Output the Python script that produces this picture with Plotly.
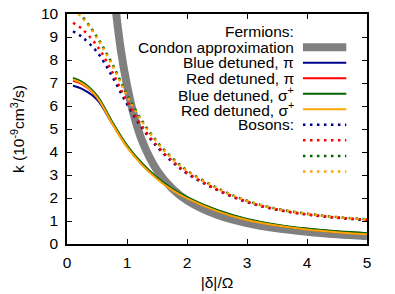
import plotly.graph_objects as go

# ---- data ----
x_grid = [0.1, 0.25, 0.5, 0.75, 1.0, 1.25, 1.5, 1.75, 2.0, 2.5, 3.0, 3.5, 4.0, 4.5, 5.0]

fermion_blue_pi = [6.88, 6.74, 6.28, 5.25, 4.24, 3.47, 2.86, 2.39, 2.02, 1.46, 1.07, 0.82, 0.65, 0.53, 0.44]
fermion_red_pi = [7.10, 6.95, 6.38, 5.27, 4.24, 3.46, 2.85, 2.37, 2.00, 1.44, 1.05, 0.81, 0.64, 0.52, 0.43]
fermion_blue_sigma = [7.22, 7.05, 6.45, 5.33, 4.29, 3.51, 2.89, 2.41, 2.04, 1.48, 1.09, 0.84, 0.67, 0.55, 0.47]
fermion_red_sigma = [7.15, 6.98, 6.38, 5.25, 4.21, 3.44, 2.83, 2.35, 1.98, 1.43, 1.04, 0.80, 0.63, 0.51, 0.42]

boson_blue_pi = [9.25, 9.00, 8.35, 7.30, 6.08, 5.05, 4.23, 3.58, 3.07, 2.35, 1.82, 1.49, 1.28, 1.14, 1.04]
boson_red_pi = [9.62, 9.35, 8.62, 7.50, 6.20, 5.12, 4.28, 3.62, 3.10, 2.37, 1.84, 1.50, 1.29, 1.15, 1.05]
boson_blue_sigma = [10.25, 9.90, 9.00, 7.85, 6.50, 5.36, 4.45, 3.75, 3.20, 2.44, 1.88, 1.53, 1.32, 1.17, 1.07]
boson_red_sigma = [10.20, 9.85, 8.95, 7.80, 6.45, 5.32, 4.42, 3.72, 3.18, 2.42, 1.87, 1.52, 1.31, 1.16, 1.06]

condon_x = [0.75, 0.8, 0.9, 1.0, 1.1, 1.25, 1.5, 1.75, 2.0, 2.5, 3.0, 3.5, 4.0, 4.5, 5.0]
condon_k = [12.0, 10.5, 8.4, 6.9, 5.75, 4.5, 3.2, 2.42, 1.9, 1.27, 0.91, 0.68, 0.53, 0.42, 0.34]

x_ticks = [0, 1, 2, 3, 4, 5]
y_ticks = [0, 1, 2, 3, 4, 5, 6, 7, 8, 9, 10]

legend_labels = ["Fermions:", "Condon approximation", "Blue detuned, π", "Red detuned, π",
                 "Blue detuned, σ<sup>+</sup>", "Red detuned, σ<sup>+</sup>", "Bosons:", "", "", ""]

# ---- styles ----
GRAY = "#808080"
BLUE = "#00008b"
RED = "#ff0000"
GREEN = "#006400"
ORANGE = "#ffa500"
FONT = "Liberation Sans, Arial, sans-serif"
FS = 15.5
DOT = "2.5px,4.5px"

fig = go.Figure()
fig.add_trace(go.Scatter(x=condon_x, y=condon_k, mode="lines",
                         line=dict(color=GRAY, width=8, shape="spline")))
for ys, c in [(fermion_blue_pi, BLUE), (fermion_red_pi, RED),
              (fermion_blue_sigma, GREEN), (fermion_red_sigma, ORANGE)]:
    fig.add_trace(go.Scatter(x=x_grid, y=ys, mode="lines",
                             line=dict(color=c, width=2, shape="spline")))
for ys, c in [(boson_blue_pi, BLUE), (boson_red_pi, RED),
              (boson_blue_sigma, GREEN), (boson_red_sigma, ORANGE)]:
    fig.add_trace(go.Scatter(x=x_grid, y=ys, mode="lines",
                             line=dict(color=c, width=2.5, dash=DOT, shape="spline")))

# ---- layout geometry (page pixels) ----
W, H = 395, 294
PL, PT, PR, PB = 67, 14, 366.7, 243.7          # plot box
L, T, R, B = PL, PT, W - PR, H - PB
pw, ph = PR - PL, PB - PT

def px(xp):
    return (xp - PL) / pw

def py(yp):
    return (PB - yp) / ph

row0, step = 31.7, 15.5
text_right = 296
s0, s1 = 302.7, 346
samples = [None, (GRAY, 8, "solid"), (BLUE, 2, "solid"), (RED, 2, "solid"),
           (GREEN, 2, "solid"), (ORANGE, 2, "solid"),
           (BLUE, 2.5, DOT), (RED, 2.5, DOT), (GREEN, 2.5, DOT), (ORANGE, 2.5, DOT)]
for i, (lab, samp) in enumerate(zip(legend_labels, samples)):
    yy = row0 + i * step
    if lab:
        fig.add_annotation(x=px(text_right), y=py(yy), xref="paper", yref="paper",
                           text=lab, showarrow=False, xanchor="right", yanchor="middle",
                           font=dict(family=FONT, size=FS, color="black"))
    if samp:
        c, w, d = samp
        fig.add_shape(type="line", xref="paper", yref="paper",
                      x0=px(s0), x1=px(s1), y0=py(yy), y1=py(yy),
                      line=dict(color=c, width=w, dash=d))

axis_common = dict(showline=True, linecolor="black", linewidth=1.5, mirror="ticks",
                   ticks="inside", ticklen=5, tickcolor="black", tickwidth=1,
                   showgrid=False, zeroline=False, automargin=False,
                   ticklabeloverflow="allow",
                   tickfont=dict(family=FONT, size=FS, color="black"))

fig.update_layout(
    width=W, height=H, margin=dict(l=L, r=R, t=T, b=B, autoexpand=False),
    paper_bgcolor="white", plot_bgcolor="white", showlegend=False,
    font=dict(family=FONT, size=FS, color="black"),
    xaxis=dict(range=[0, 5], tickvals=x_ticks, ticklabelstandoff=4,
               title=dict(text="|δ|/Ω", standoff=7, font=dict(family=FONT, size=FS)),
               **axis_common),
    yaxis=dict(range=[0, 10], tickvals=y_ticks, ticklabelstandoff=4,
               title=dict(text="k (10<sup>-9</sup>cm<sup>3</sup>/s)", standoff=12,
                          font=dict(family=FONT, size=FS)),
               **axis_common),
)

fig.write_html("out.html", config={"displayModeBar": False},
               post_script="document.body.style.margin='0';document.body.style.padding='0';")
